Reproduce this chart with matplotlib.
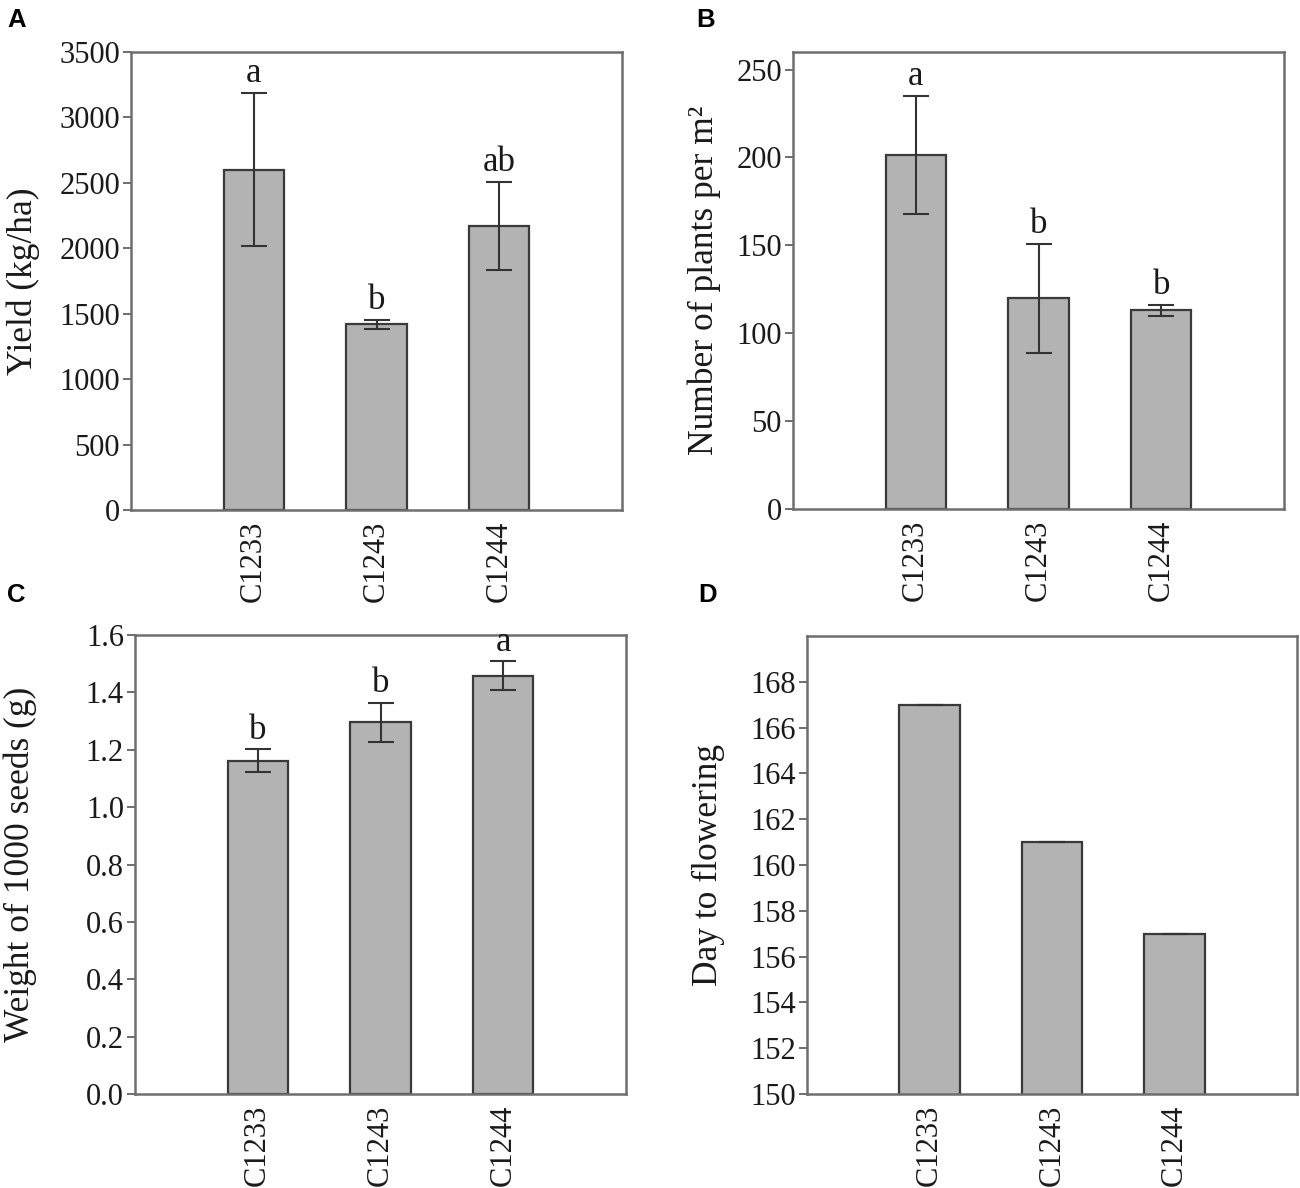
"""four-panel bar chart of line performance"""

import matplotlib
matplotlib.use("Agg")
import matplotlib.pyplot as plt
import numpy as np

lines = ["C1233", "C1243", "C1244"]

yield_mean = [2600, 1420, 2170]
yield_err = [585, 35, 335]
yield_letters = ["a", "b", "ab"]

plants_mean = [201.5, 120, 113]
plants_err = [33.5, 31, 3]
plants_letters = ["a", "b", "b"]

seed_mean = [1.162, 1.295, 1.458]
seed_err = [0.039, 0.068, 0.05]
seed_letters = ["b", "b", "a"]

flower_mean = [167, 161, 157]
flower_err = [0, 0, 0]

plt.rcParams["font.family"] = ["Liberation Serif", "DejaVu Serif"]

BAR_COLOR = "#b3b3b3"
EDGE_COLOR = "#3a3a3a"
SPINE_COLOR = "#6e6e6e"

fig = plt.figure(figsize=(13, 11.88), dpi=100)


def panel(rect, means, errs, letters, ylim, yticks, ylabel, label_x, tick_fmt):
    """draw one bar panel"""
    ax = fig.add_axes(rect)
    x = np.arange(len(lines))
    ax.bar(x, means, width=0.49, color=BAR_COLOR, edgecolor=EDGE_COLOR,
           linewidth=1.6, yerr=errs, capsize=9.5,
           error_kw={"ecolor": "#333333", "elinewidth": 1.5, "capthick": 1.5},
           zorder=2)
    ax.set_xlim(-1, 3)
    ax.set_ylim(*ylim)
    ax.set_yticks(yticks)
    ax.set_yticklabels([tick_fmt(t) for t in yticks])
    ax.set_xticks(x)
    ax.set_xticklabels(lines, rotation=90)
    ax.tick_params(axis="y", length=6, width=1.4, color=SPINE_COLOR,
                   labelsize=22, pad=2, labelcolor="#1a1a1a")
    ax.tick_params(axis="x", length=0, labelsize=22, pad=8,
                   labelcolor="#1a1a1a")
    for sp in ax.spines.values():
        sp.set_color(SPINE_COLOR)
        sp.set_linewidth(1.8)
    ax.set_ylabel(ylabel, fontsize=25.5, color="#1a1a1a")
    ax.yaxis.set_label_coords(label_x, 0.5)
    if letters:
        for xi, m, e, lt in zip(x, means, errs, letters):
            ax.annotate(lt, (xi, m + e), xytext=(0, 2),
                        textcoords="offset points", ha="center",
                        va="bottom", fontsize=25, color="#1a1a1a")
    return ax


W, H = 1300, 1188


def rect(left, top, right, bottom):
    return [left / W, 1 - bottom / H, (right - left) / W, (bottom - top) / H]


panel(rect(131, 52, 622, 510), yield_mean, yield_err, yield_letters,
      (0, 3500), np.arange(0, 3501, 500), "Yield (kg/ha)", -0.185,
      lambda t: f"{t:.0f}")
panel(rect(793, 52, 1284, 509), plants_mean, plants_err, plants_letters,
      (0, 260), np.arange(0, 251, 50), "Number of plants per m²", -0.147,
      lambda t: f"{t:.0f}")
panel(rect(135, 635, 626, 1094), seed_mean, seed_err, seed_letters,
      (0, 1.6), np.arange(0, 1.61, 0.2), "Weight of 1000 seeds (g)", -0.199,
      lambda t: f"{t:.1f}")
panel(rect(807, 636, 1297, 1094), flower_mean, flower_err, None,
      (150, 170), np.arange(150, 169, 2), "Day to flowering", -0.167,
      lambda t: f"{t:.0f}")

for letter, px, py in [("A", 7, 8), ("B", 696, 8), ("C", 7, 583), ("D", 698, 583)]:
    fig.text(px / W, 1 - py / H, letter, fontsize=18.5, fontweight="bold",
             family=["Liberation Sans", "DejaVu Sans"], va="top", ha="left")

fig.savefig("out.png", dpi=100)
